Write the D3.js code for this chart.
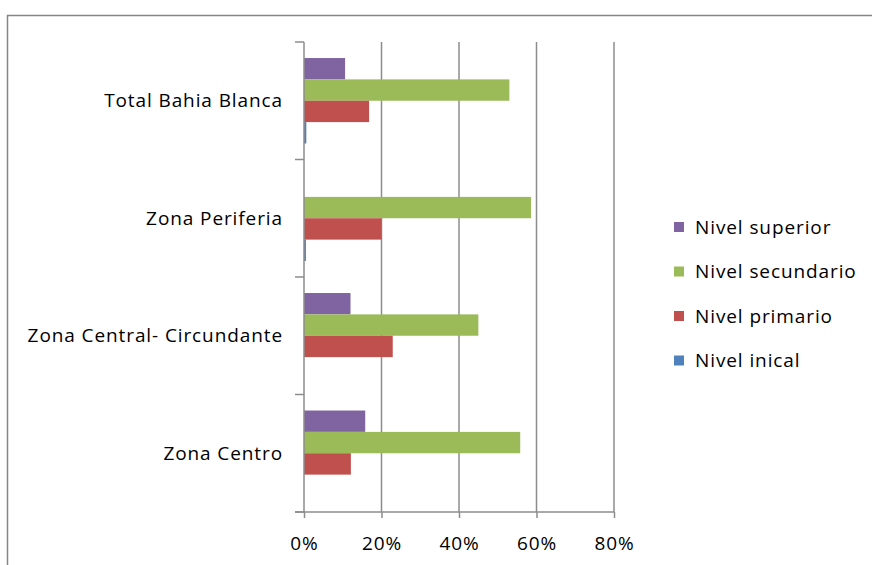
<!DOCTYPE html>
<html>
<meta charset="utf-8">
<head>
<script src="https://cdnjs.cloudflare.com/ajax/libs/d3/7.8.5/d3.min.js"></script>
<style>
  body { margin: 0; background: #fff; }
  text { font-family: 'Open Sans', sans-serif; font-size: 19px; letter-spacing: 0.9px; fill: #000; }
</style>
</head>
<body>
<script>

const width = 872,
    height = 565;

// Categories, listed top to bottom as they appear on the chart
const zonas = ["Total Bahia Blanca", "Zona Periferia", "Zona Central- Circundante", "Zona Centro"];

// Series, listed top to bottom inside each group (same order as the legend)
const niveles = ["Nivel superior", "Nivel secundario", "Nivel primario", "Nivel inical"];
const colores = ["#8064A2", "#9BBB59", "#C0504D", "#4F81BD"];

// Share of each level, one array per series, in zonas order
const superior   = [0.106, 0.000, 0.120, 0.158];
const secundario = [0.530, 0.586, 0.450, 0.558];
const primario   = [0.168, 0.200, 0.229, 0.121];
const inicial    = [0.006, 0.005, 0.000, 0.000];

const xTicks = [0, 0.2, 0.4, 0.6, 0.8];

const series = [superior, secundario, primario, inicial];

const svg = d3.select("body")
    .append("svg")
    .attr("width", width)
    .attr("height", height);

// Outer chart border (runs off the right and bottom of the picture)
svg.append("rect")
    .attr("x", 7.5)
    .attr("y", 15.5)
    .attr("width", 900)
    .attr("height", 600)
    .attr("fill", "none")
    .attr("stroke", "#868686")
    .attr("stroke-width", 1.5);

const plot = { left: 304, right: 614, top: 42, bottom: 512 };

const x = d3.scaleLinear()
    .domain([0, 0.8])
    .range([plot.left, plot.right]);

const y = d3.scaleBand()
    .domain(zonas)
    .range([plot.top, plot.bottom]);

// Gap width 150%: 4 bars + 1.5 bar widths of space per group
const barH = y.bandwidth() / 5.5;

const inner = d3.scaleBand()
    .domain(niveles)
    .range([barH * 0.75, barH * 0.75 + barH * 4]);

// Vertical gridlines
svg.append("g")
    .selectAll("line")
    .data(xTicks.slice(1))
    .join("line")
    .attr("x1", d => x(d))
    .attr("x2", d => x(d))
    .attr("y1", plot.top)
    .attr("y2", plot.bottom)
    .attr("stroke", "#8c8c8c")
    .attr("stroke-width", 1.5);

// Bars
const groups = svg.append("g")
    .selectAll("g")
    .data(zonas)
    .join("g")
    .attr("transform", d => `translate(0,${y(d)})`);

groups.selectAll("rect")
    .data((z, i) => niveles.map((n, j) => ({ nivel: n, value: series[j][i], color: colores[j] })))
    .join("rect")
    .attr("x", x(0))
    .attr("y", d => inner(d.nivel))
    .attr("width", d => x(d.value) - x(0))
    .attr("height", inner.bandwidth())
    .attr("fill", d => d.color);

// Bottom axis
const xAxis = d3.axisBottom(x)
    .tickValues(xTicks)
    .tickFormat(d3.format(".0%"))
    .tickSize(6)
    .tickPadding(19)
    .tickSizeOuter(0);

const gx = svg.append("g")
    .attr("transform", `translate(0,${plot.bottom})`)
    .call(xAxis);
gx.attr("font-family", null).attr("font-size", null);
gx.select(".domain").remove();
gx.selectAll(".tick line").attr("stroke", "#8c8c8c").attr("stroke-width", 1.5);
gx.selectAll("text").attr("fill", null);
gx.append("line")
    .attr("x1", plot.left - 9)
    .attr("x2", plot.right)
    .attr("stroke", "#8c8c8c")
    .attr("stroke-width", 1.5);

// Left axis: line plus ticks at category boundaries
const gy = svg.append("g");
gy.append("line")
    .attr("x1", plot.left)
    .attr("x2", plot.left)
    .attr("y1", plot.top)
    .attr("y2", plot.bottom)
    .attr("stroke", "#8c8c8c")
    .attr("stroke-width", 1.5);
gy.selectAll("line.tick")
    .data(zonas.concat(["end"]))
    .join("line")
    .attr("class", "tick")
    .attr("x1", plot.left - 9)
    .attr("x2", plot.left)
    .attr("y1", (d, i) => plot.top + i * y.step())
    .attr("y2", (d, i) => plot.top + i * y.step())
    .attr("stroke", "#8c8c8c")
    .attr("stroke-width", 1.5);

gy.selectAll("text")
    .data(zonas)
    .join("text")
    .attr("x", 283)
    .attr("y", d => y(d) + y.bandwidth() / 2)
    .attr("dy", "0.35em")
    .attr("text-anchor", "end")
    .text(d => d);

// Legend
const legend = svg.append("g")
    .selectAll("g")
    .data(niveles)
    .join("g")
    .attr("transform", (d, i) => `translate(674,${227 + i * 44.5})`);

legend.append("rect")
    .attr("x", 0)
    .attr("y", -5)
    .attr("width", 10)
    .attr("height", 10)
    .attr("fill", (d, i) => colores[i]);

legend.append("text")
    .attr("x", 21)
    .attr("y", 0)
    .attr("dy", "0.35em")
    .text(d => d);

</script>
</body>
</html>
